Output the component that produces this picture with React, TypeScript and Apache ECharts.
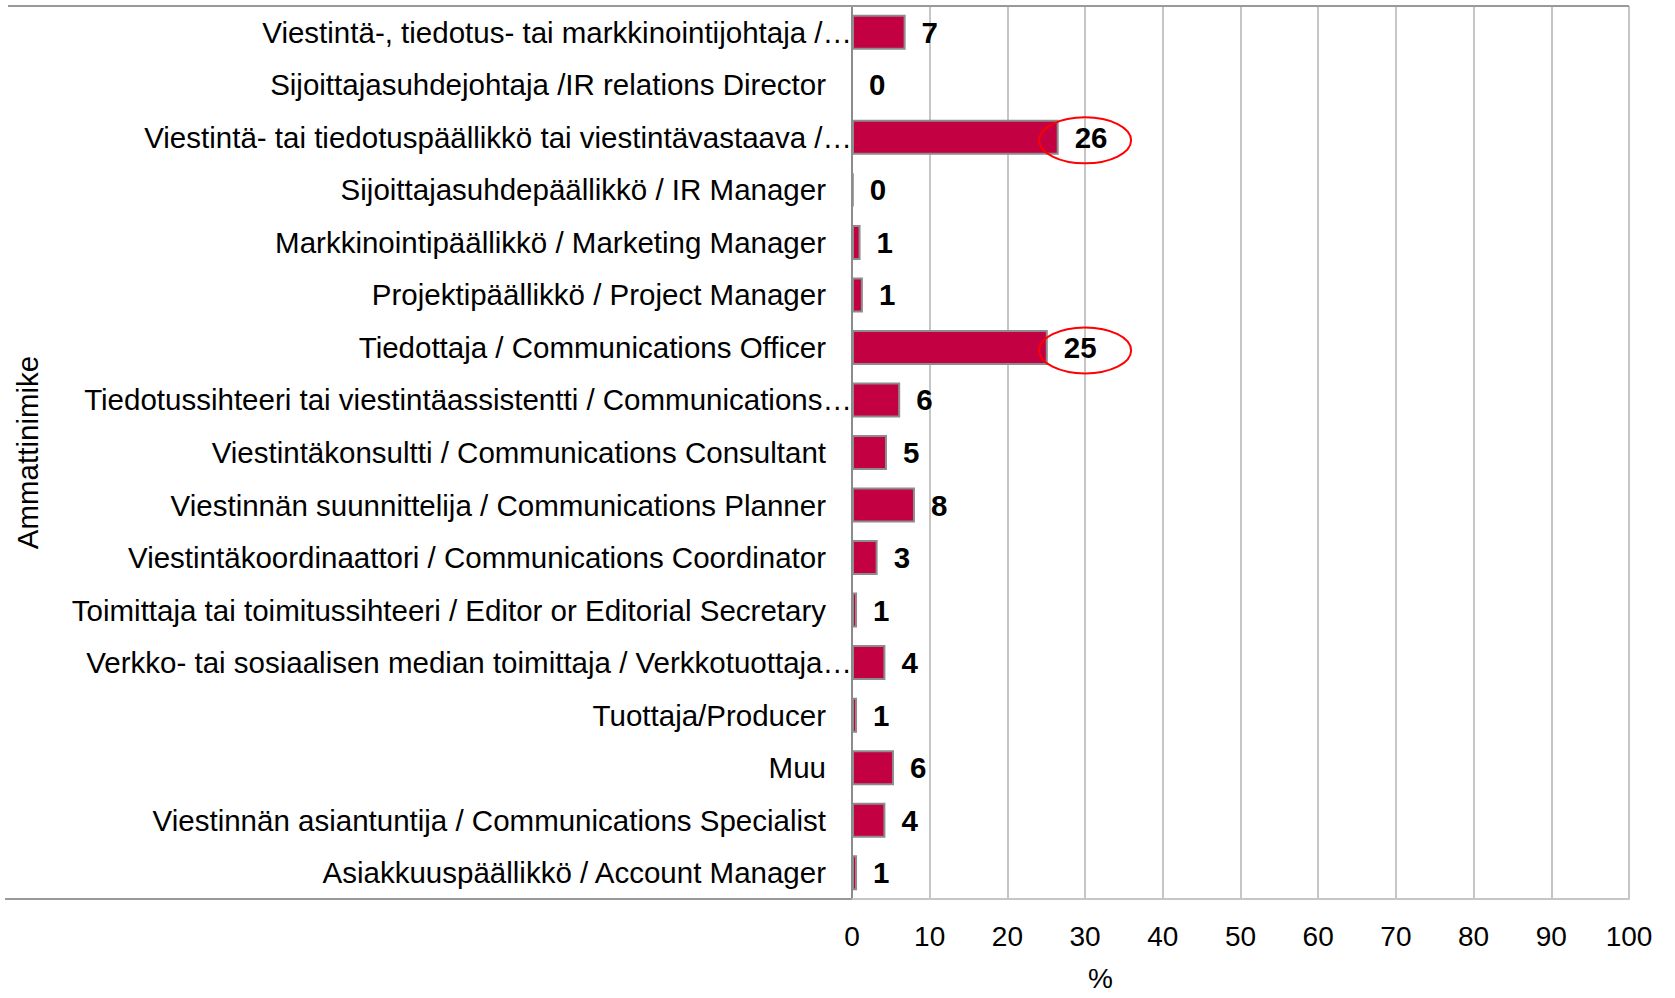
import React, { useEffect, useRef } from "react";
import * as echarts from "echarts";

const categories = [
  "Viestintä-, tiedotus- tai markkinointijohtaja /…",
  "Sijoittajasuhdejohtaja /IR relations Director",
  "Viestintä- tai tiedotuspäällikkö tai viestintävastaava /…",
  "Sijoittajasuhdepäällikkö / IR Manager",
  "Markkinointipäällikkö / Marketing Manager",
  "Projektipäällikkö / Project Manager",
  "Tiedottaja / Communications Officer",
  "Tiedotussihteeri tai viestintäassistentti / Communications…",
  "Viestintäkonsultti / Communications Consultant",
  "Viestinnän suunnittelija / Communications Planner",
  "Viestintäkoordinaattori / Communications Coordinator",
  "Toimittaja tai toimitussihteeri / Editor or Editorial Secretary",
  "Verkko- tai sosiaalisen median toimittaja / Verkkotuottaja…",
  "Tuottaja/Producer",
  "Muu",
  "Viestinnän asiantuntija / Communications Specialist",
  "Asiakkuuspäällikkö / Account Manager",
];

// bar lengths (%)
const shares = [6.9, 0, 26.6, 0.2, 1.1, 1.4, 25.2, 6.2, 4.5, 8.1, 3.3, 0.65, 4.3, 0.65, 5.4, 4.3, 0.65];
// value labels as printed in the picture
const shownLabels = ["7", "0", "26", "0", "1", "1", "25", "6", "5", "8", "3", "1", "4", "1", "6", "4", "1"];

const xTicks = { min: 0, max: 100, interval: 10 };

// highlighted rows (circled labels) and the x value the circle is centred on
const highlightRows = [2, 6];
const highlightX = 30;

const FONT = "Liberation Sans, Arial, sans-serif";

export default function App() {
  const ref = useRef<HTMLDivElement>(null);

  useEffect(() => {
    if (!ref.current) return;
    const chart = echarts.init(ref.current, null, { renderer: "svg" });
    const isTrunc = (n: string) => n.endsWith("…");
    chart.setOption({
      animation: false,
      backgroundColor: "#ffffff",
      textStyle: { fontFamily: FONT },
      grid: {
        left: 852,
        width: 777,
        top: 6,
        height: 893,
        containLabel: false,
        outerBoundsMode: "none",
      },
      xAxis: {
        type: "value",
        min: xTicks.min,
        max: xTicks.max,
        interval: xTicks.interval,
        axisLine: { show: true, lineStyle: { color: "#c6c6c6", width: 2 } },
        axisTick: { show: false },
        splitLine: { show: true, lineStyle: { color: "#c6c6c6", width: 2 } },
        axisLabel: { color: "#000", fontSize: 28, fontFamily: FONT, margin: 23 },
        name: "%",
        nameLocation: "middle",
        nameGap: 79,
        nameTextStyle: {
          color: "#000",
          fontSize: 28,
          fontFamily: FONT,
          verticalAlign: "middle",
          lineHeight: 22,
          padding: [0, 280, 0, 0],
        },
      },
      yAxis: [
        {
          type: "category",
          data: categories,
          inverse: true,
          axisLine: { show: true, lineStyle: { color: "#8c8c8c", width: 2 } },
          axisTick: { show: false },
          splitLine: { show: false },
          axisLabel: {
            color: "#000",
            fontSize: 29.5,
            fontFamily: FONT,
            margin: 26,
            padding: [4, 0, 0, 0],
            formatter: (n: string) => (isTrunc(n) ? "" : n),
          },
          name: "Ammattinimike",
          nameLocation: "middle",
          nameGap: 810,
          nameRotate: 90,
          nameTextStyle: { color: "#000", fontSize: 29.5, fontFamily: FONT },
        },
        {
          type: "category",
          data: categories,
          inverse: true,
          position: "left",
          axisLine: { show: false },
          axisTick: { show: false },
          splitLine: { show: false },
          axisLabel: {
            color: "#000",
            fontSize: 29.5,
            fontFamily: FONT,
            margin: 0,
            padding: [4, 0, 0, 0],
            formatter: (n: string) => (isTrunc(n) ? n : ""),
          },
        },
      ],
      series: [
        {
          type: "bar",
          yAxisIndex: 0,
          data: shares,
          barWidth: 35,
          itemStyle: { color: "#c20042", borderColor: "#8c8c8c", borderWidth: 2 },
          label: {
            show: true,
            position: "right",
            distance: 16,
            color: "#000",
            fontSize: 29.5,
            fontWeight: "bold",
            fontFamily: FONT,
            formatter: (p: any) => shownLabels[p.dataIndex],
          },
          z: 3,
        },
      ],
    });

    const ellipses = highlightRows.map((row) => {
      const [cx, cy] = chart.convertToPixel({ gridIndex: 0 }, [highlightX, row]) as number[];
      return {
        type: "ellipse",
        shape: { cx, cy: cy + 3, rx: 46, ry: 23 },
        style: { fill: "none", stroke: "#ff0000", lineWidth: 2 },
        z: 100,
      };
    });

    chart.setOption({
      graphic: [
        { type: "line", shape: { x1: 8, y1: 6, x2: 1629, y2: 6 }, style: { stroke: "#999", lineWidth: 2 }, z: 50 },
        { type: "line", shape: { x1: 5, y1: 899, x2: 852, y2: 899 }, style: { stroke: "#999", lineWidth: 2 }, z: 50 },
        ...ellipses,
      ],
    });

    return () => chart.dispose();
  }, []);

  return (
    <div
      ref={ref}
      style={{ position: "fixed", left: 0, top: 0, width: 1675, height: 998, background: "#fff" }}
    />
  );
}
